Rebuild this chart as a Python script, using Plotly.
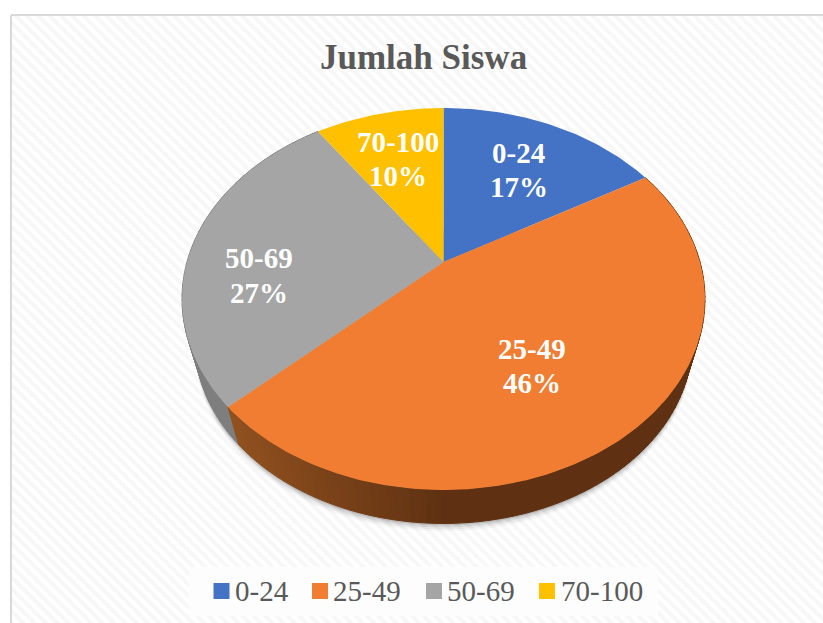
import math
import plotly.graph_objects as go

categories = ["0-24", "25-49", "50-69", "70-100"]
values = [16.6, 46.4, 27.4, 9.6]
colors = ["#4472C4", "#F07D31", "#A5A5A5", "#FFC000"]

W, H = 823, 623
CX, CY = 443.5, 262
A, B, K = 183.8, 256.5, 0.1937
S, T = 0.95, 58.0


def top(deg):
    a = math.radians(deg)
    u, v = math.sin(a), math.cos(a)
    w = 1 + K * v
    return CX + B * u / w, CY - A * v / w


def low(p):
    return CX + (p[0] - CX) * S, p[1] * S + T


def lerp_hex(c1, c2, t):
    t = max(0, min(1, t))
    return "#" + "".join(
        f"{round(int(c1[i:i+2],16)+(int(c2[i:i+2],16)-int(c1[i:i+2],16))*t):02x}" for i in (1, 3, 5)
    )


fig = go.Figure()


def poly(xs, ys, color, width=0, line=None, opacity=1):
    fig.add_trace(go.Scatter(x=xs, y=ys, mode="lines", fill="toself", fillcolor=color,
                             line=dict(color=line or color, width=width), opacity=opacity,
                             showlegend=False, hoverinfo="skip"))


# hatched chart area
fig.add_trace(go.Scatter(x=[11, W + 5, W + 5, 11, 11], y=[15, 15, H + 5, H + 5, 15], mode="lines",
                         fill="toself", fillcolor="#ffffff",
                         fillpattern=dict(shape="\\", size=8, solidity=0.5, fgcolor="#f0f0f0", bgcolor="#ffffff"),
                         line=dict(color="#d9d9d9", width=2), showlegend=False, hoverinfo="skip"))

# angular boundaries derived from the values
total = sum(values)
bounds = [0]
for val in values:
    bounds.append(bounds[-1] + 360 * val / total)

# soft shadow below the disc
arc = [low(top(d)) for d in range(60, 301, 2)]
for off, op in [(8, 0.03), (6, 0.05), (4, 0.08), (2, 0.12)]:
    poly([p[0] for p in arc], [p[1] + off for p in arc], "#000000", opacity=op)

# side walls (only the two visible slices)
for idx, c1, c2 in [(2, "#7e7e7e", "#666666"), (1, "#91511f", "#5f3112")]:
    start, end = bounds[idx], bounds[idx + 1]
    steps = max(2, int((end - start) / 1.5))
    for j in range(steps):
        d0 = start + (end - start) * j / steps
        d1 = start + (end - start) * (j + 1) / steps
        p0, p1 = top(d0), top(d1)
        q0, q1 = low(p0), low(p1)
        t = (CX - (q0[0] + q1[0]) / 2) / 205
        col = lerp_hex(c2, c1, t)
        poly([p0[0], p1[0], q1[0], q0[0], p0[0]], [p0[1], p1[1], q1[1], q0[1], p0[1]], col, width=1)

# top faces
for i, name in enumerate(categories):
    n = max(2, int(bounds[i + 1] - bounds[i]))
    pts = [top(bounds[i] + (bounds[i + 1] - bounds[i]) * j / n) for j in range(n + 1)]
    xs = [CX] + [p[0] for p in pts] + [CX]
    ys = [CY] + [p[1] for p in pts] + [CY]
    poly(xs, ys, colors[i])

# legend panel
poly([189, 658, 658, 189, 189], [567, 567, 616, 616, 567], "#fdfdfd")

# slice labels
label_xy = [(518.5, 153, 187), (532, 349, 383), (259, 258, 293), (398, 142, 176)]
anns = []
for (lx, y1, y2), name, val in zip(label_xy, categories, values):
    for yy, txt in ((y1, name), (y2, f"{round(val)}%")):
        anns.append(dict(x=lx, y=yy, xref="x", yref="y", text=f"<b>{txt}</b>", showarrow=False,
                         font=dict(family="Liberation Serif", size=29, color="#ffffff"), align="center"))
anns.append(dict(x=423, y=57, xref="x", yref="y", text="<b>Jumlah Siswa</b>", showarrow=False,
                 font=dict(family="Liberation Serif", size=35, color="#595959")))

# legend entries
legend_swatch_x = [221.5, 320, 434, 547]
legend_text_x = [235, 333, 447, 561]
for sx, tx, name, col in zip(legend_swatch_x, legend_text_x, categories, colors):
    fig.add_trace(go.Scatter(x=[sx], y=[591], mode="markers",
                             marker=dict(symbol="square", size=16, color=col),
                             showlegend=False, hoverinfo="skip"))
    fig.add_trace(go.Scatter(x=[tx], y=[594], mode="text", text=[name], textposition="middle right",
                             textfont=dict(family="Liberation Serif", size=29, color="#595959"),
                             showlegend=False, hoverinfo="skip"))

fig.update_layout(width=W, height=H, margin=dict(l=0, r=0, t=0, b=0), paper_bgcolor="#ffffff",
                  plot_bgcolor="#ffffff", showlegend=False, annotations=anns,
                  xaxis=dict(range=[0, W], visible=False, fixedrange=True),
                  yaxis=dict(range=[H, 0], visible=False, fixedrange=True))
fig.write_html("out.html", config={"displayModeBar": False},
               post_script="document.body.style.margin='0';document.body.style.overflow='hidden';")
